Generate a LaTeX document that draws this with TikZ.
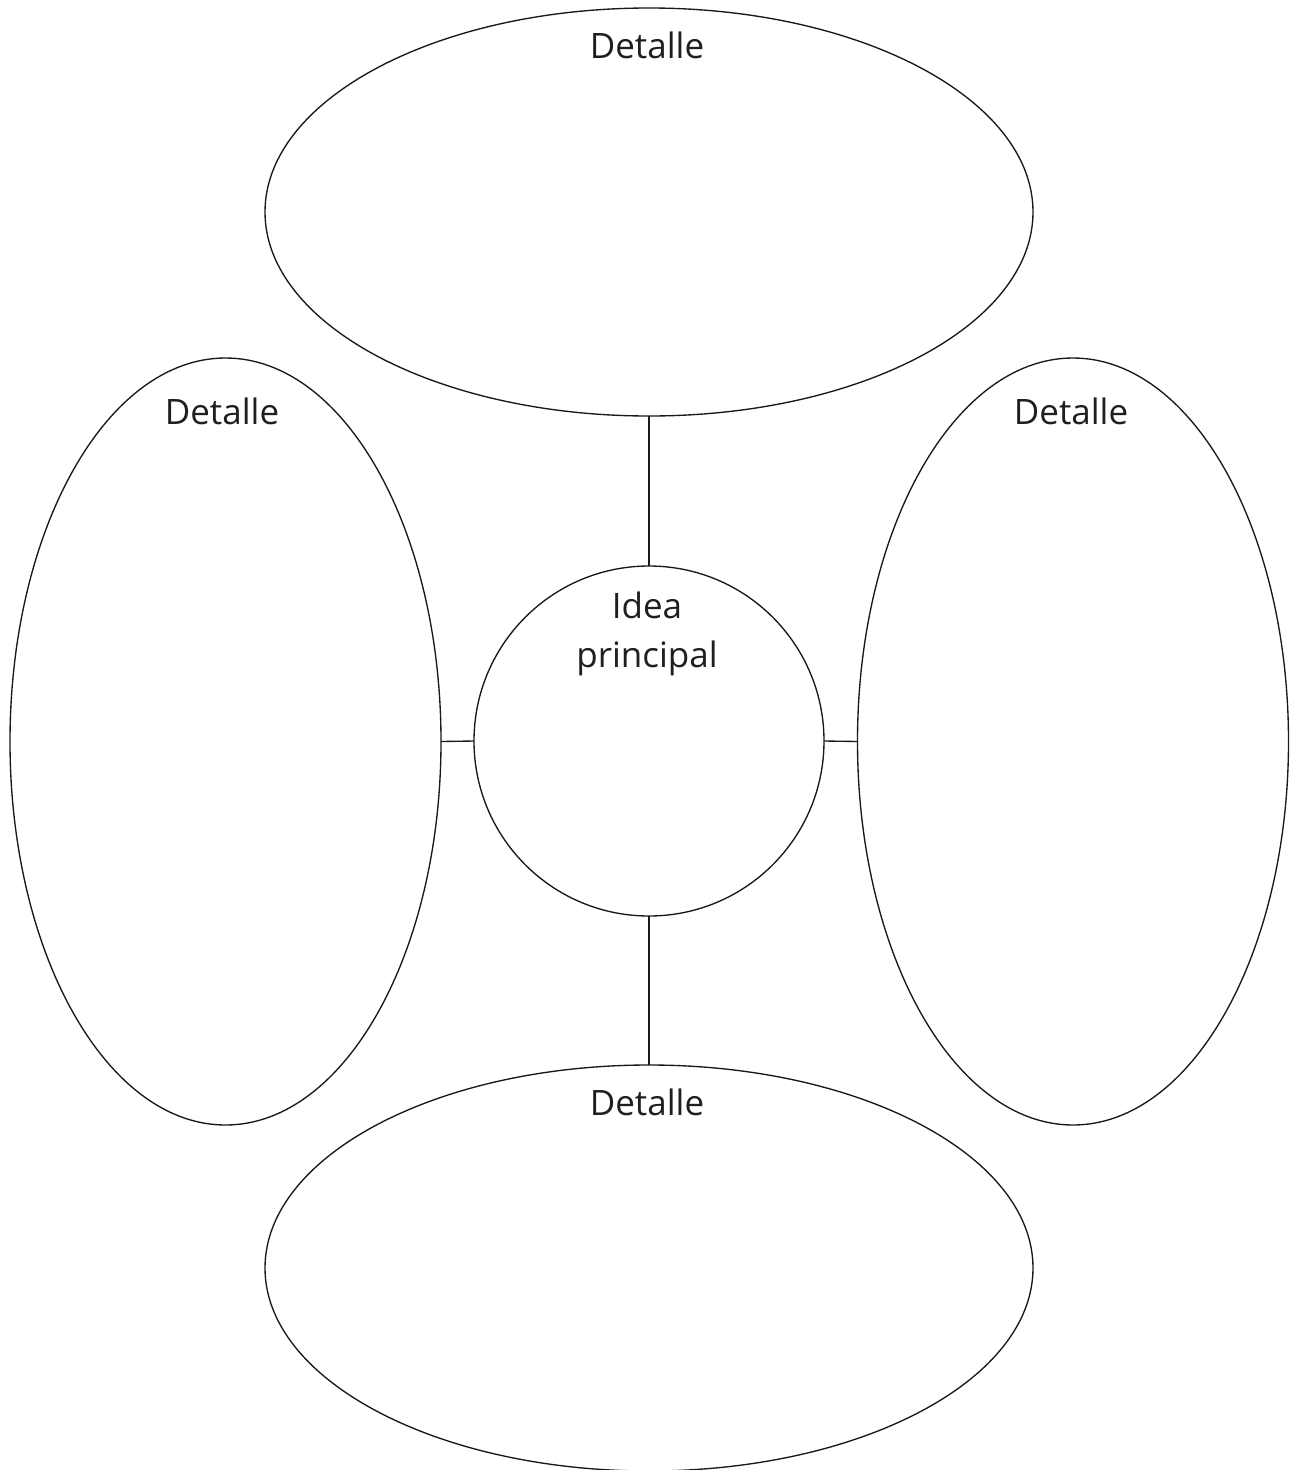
\documentclass[tikz,border=0pt]{standalone}
\usepackage{fontspec}
\setmainfont{Open Sans}
\usetikzlibrary{shapes.geometric}
\begin{document}
\begin{tikzpicture}[x=1pt,y=-1pt,
  shapeline/.style={draw=black!90, line width=1.35pt},
  oval/.style={shapeline, ellipse, inner sep=0pt, outer sep=0pt},
  lbl/.style={anchor=base, font=\fontsize{35}{42}\selectfont, text=black!88, inner sep=0pt},
  link/.style={draw=black!90, line width=1.35pt}]
\useasboundingbox (0,0) rectangle (1295,1470);
\node[oval, minimum width=768pt, minimum height=408pt] (top) at (649,212) {};
\node[oval, minimum width=431pt, minimum height=767pt] (left) at (225.5,741.5) {};
\node[oval, minimum width=431pt, minimum height=767pt] (right) at (1073,741.5) {};
\node[oval, minimum width=768pt, minimum height=406pt] (bottom) at (649,1268) {};
\node[shapeline, circle, minimum size=350pt, inner sep=0pt, outer sep=0pt] (main) at (649,741) {};
\node[lbl] (ltop) at (647,58) {Detalle};
\node[lbl] (lleft) at (222,424) {Detalle};
\node[lbl] (lright) at (1071,424) {Detalle};
\node[lbl] (lbottom) at (647,1115) {Detalle};
\node[lbl] (lmain1) at (647,618) {Idea};
\node[lbl] (lmain2) at (647,667) {principal};
\draw[link] (top.south) -- (main.north);
\draw[link] (main.south) -- (bottom.north);
\draw[link] (left.east) -- (main.west);
\draw[link] (main.east) -- (right.west);
\end{tikzpicture}
\end{document}
